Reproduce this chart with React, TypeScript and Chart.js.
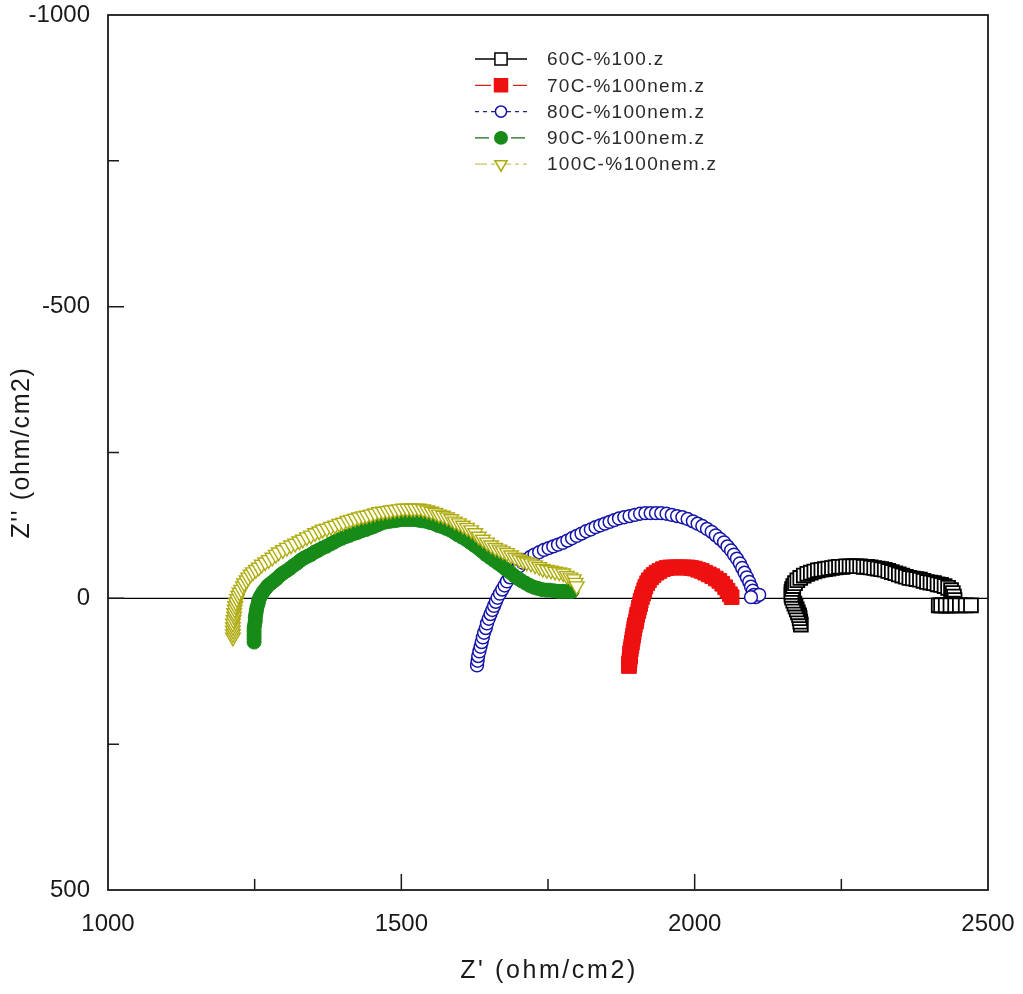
import React, { useEffect, useRef } from 'react';
import { Chart, registerables } from 'chart.js';

Chart.register(...registerables);

const FONT = "'Liberation Sans', Arial, Helvetica, sans-serif";

// ---- axis ranges / tick labels ----
const xRange = [1000, 2500];
const yRange = [-1000, 500];
const xTickValues = [1000, 1500, 2000, 2500];
const xTickLabels = ['1000', '1500', '2000', '2500'];
const yTickValues = [-1000, -500, 0, 500];
const yTickLabels = ['-1000', '-500', '0', '500'];
const xTitle = "Z' (ohm/cm2)";
const yTitle = "Z'' (ohm/cm2)";

// ---- series names ----
const seriesNames = ['60C-%100.z', '70C-%100nem.z', '80C-%100nem.z', '90C-%100nem.z', '100C-%100nem.z'];

// ---- 60C (Z', Z'') ----
const re60 = [2181, 2180, 2179, 2178, 2176, 2174, 2172, 2170, 2168, 2166, 2165, 2165, 2166, 2168, 2171, 2175, 2180, 2186, 2192, 2198, 2204, 2210, 2216, 2222, 2228, 2234, 2240, 2246, 2252, 2258, 2264, 2270, 2276, 2282, 2288, 2294, 2300, 2306, 2312, 2318, 2324, 2330, 2336, 2342, 2348, 2354, 2360, 2366, 2372, 2378, 2384, 2390, 2396, 2402, 2408, 2414, 2420, 2426, 2432, 2437, 2440, 2442, 2443, 2440, 2434, 2428, 2422, 2416, 2420, 2428, 2436, 2444, 2452, 2462, 2471];
const im60 = [45, 40, 34, 29, 24, 19, 14, 9, 4, -1, -6, -11, -16, -21, -26, -31, -35, -39, -42, -44, -46, -48, -49, -50, -51, -52, -53, -54, -54, -55, -55, -55, -55, -55, -54, -54, -53, -52, -51, -50, -49, -47, -45, -43, -41, -39, -37, -35, -34, -33, -32, -30, -28, -27, -26, -24, -23, -21, -18, -14, -9, -3, 3, 9, 12, 12, 12, 12, 12, 12, 12, 12, 12, 12, 12];

// ---- 70C ----
const re70 = [1888, 1888, 1889, 1890, 1890, 1891, 1892, 1893, 1894, 1895, 1896, 1897, 1898, 1900, 1901, 1902, 1904, 1905, 1907, 1908, 1910, 1912, 1914, 1916, 1919, 1922, 1926, 1930, 1935, 1940, 1946, 1952, 1958, 1964, 1970, 1976, 1982, 1988, 1994, 2000, 2006, 2012, 2018, 2024, 2030, 2036, 2042, 2047, 2052, 2056, 2060, 2063];
const im70 = [116, 112, 106, 100, 94, 88, 82, 76, 70, 64, 58, 52, 46, 40, 34, 28, 22, 16, 10, 4, -2, -8, -14, -20, -26, -31, -36, -40, -44, -47, -50, -52, -53, -53, -53, -53, -53, -53, -52, -51, -49, -47, -44, -41, -38, -34, -30, -25, -19, -13, -7, -2];

// ---- 80C ----
const re80 = [1629, 1630, 1631, 1633, 1635, 1637, 1639, 1641, 1644, 1646, 1649, 1652, 1655, 1658, 1661, 1664, 1668, 1672, 1676, 1680, 1685, 1690, 1695, 1701, 1707, 1713, 1720, 1727, 1735, 1743, 1751, 1759, 1767, 1775, 1783, 1791, 1799, 1807, 1815, 1823, 1831, 1839, 1847, 1855, 1863, 1871, 1880, 1889, 1898, 1907, 1916, 1925, 1934, 1943, 1952, 1961, 1970, 1979, 1988, 1997, 2005, 2013, 2021, 2029, 2036, 2043, 2050, 2056, 2062, 2067, 2072, 2077, 2081, 2085, 2089, 2093, 2096, 2099, 2101, 2104, 2110, 2096];
const im80 = [115, 107, 99, 91, 83, 75, 67, 59, 51, 43, 35, 27, 20, 13, 6, -1, -8, -15, -22, -29, -36, -43, -49, -55, -61, -66, -71, -75, -79, -83, -86, -89, -92, -95, -99, -103, -107, -111, -115, -118, -122, -125, -128, -131, -134, -137, -139, -141, -143, -145, -146, -146, -146, -146, -145, -143, -141, -139, -136, -132, -128, -124, -119, -114, -108, -102, -96, -89, -82, -75, -68, -60, -52, -44, -36, -28, -20, -13, -6, -2, -6, -2];

// ---- 90C ----
const re90 = [1249, 1249, 1249, 1249, 1249, 1250, 1251, 1251, 1252, 1253, 1254, 1256, 1257, 1259, 1262, 1265, 1269, 1273, 1278, 1283, 1288, 1293, 1298, 1304, 1310, 1316, 1322, 1328, 1334, 1340, 1346, 1352, 1358, 1365, 1372, 1379, 1385, 1392, 1399, 1406, 1412, 1419, 1426, 1433, 1440, 1447, 1453, 1460, 1467, 1474, 1481, 1488, 1494, 1501, 1508, 1515, 1522, 1529, 1535, 1542, 1549, 1556, 1562, 1569, 1576, 1583, 1590, 1596, 1603, 1610, 1617, 1624, 1631, 1637, 1644, 1651, 1658, 1665, 1672, 1678, 1685, 1692, 1699, 1705, 1712, 1719, 1726, 1733, 1740, 1747, 1753, 1760, 1767, 1774, 1781, 1787, 1791];
const im90 = [75, 69, 63, 57, 51, 45, 39, 33, 27, 21, 15, 9, 3, -2, -7, -12, -17, -22, -26, -30, -34, -39, -43, -47, -51, -56, -60, -65, -69, -72, -75, -79, -82, -86, -89, -93, -96, -100, -103, -106, -108, -111, -113, -116, -118, -121, -123, -126, -129, -131, -132, -133, -134, -135, -135, -135, -135, -134, -133, -132, -130, -128, -125, -123, -120, -117, -113, -109, -105, -101, -96, -91, -86, -81, -75, -70, -65, -60, -55, -50, -45, -39, -34, -30, -26, -22, -19, -17, -15, -14, -14, -13, -12, -12, -12, -12, -12];

// ---- 100C ----
const re100 = [1213, 1213, 1213, 1213, 1213, 1214, 1215, 1215, 1216, 1217, 1218, 1220, 1222, 1224, 1227, 1230, 1232, 1236, 1239, 1243, 1247, 1252, 1257, 1262, 1268, 1274, 1280, 1286, 1291, 1298, 1305, 1312, 1319, 1326, 1332, 1339, 1346, 1353, 1360, 1366, 1373, 1380, 1387, 1394, 1401, 1408, 1414, 1421, 1428, 1435, 1441, 1448, 1455, 1462, 1469, 1476, 1482, 1489, 1496, 1503, 1510, 1517, 1523, 1530, 1537, 1544, 1551, 1558, 1564, 1571, 1578, 1585, 1591, 1598, 1605, 1612, 1619, 1626, 1632, 1639, 1646, 1653, 1660, 1667, 1673, 1680, 1687, 1694, 1701, 1708, 1714, 1721, 1728, 1735, 1741, 1748, 1755, 1762, 1769, 1776, 1782, 1788, 1794, 1797, 1799];
const im100 = [67, 61, 55, 49, 43, 37, 31, 25, 19, 13, 7, 1, -5, -10, -15, -21, -26, -31, -36, -41, -45, -49, -53, -58, -62, -66, -70, -75, -79, -83, -87, -91, -94, -98, -101, -105, -108, -112, -115, -118, -120, -123, -125, -128, -130, -133, -135, -137, -139, -141, -142, -144, -146, -148, -149, -150, -151, -152, -153, -154, -154, -154, -154, -154, -153, -151, -149, -147, -144, -142, -139, -136, -132, -129, -125, -121, -117, -112, -106, -101, -96, -91, -87, -84, -81, -78, -74, -70, -67, -64, -62, -60, -57, -54, -51, -49, -48, -46, -45, -43, -39, -36, -33, -27, -21];

const seriesRe = [re60, re70, re80, re90, re100];
const seriesIm = [im60, im70, im80, im90, im100];

// ---- styles ----
const strokeColors = ['#000000', '#ee1111', '#1414a8', '#178a17', '#aeab12'];
const fillColors = ['#ffffff', '#ee1111', '#ffffff', '#178a17', '#fffff0'];
const legendLineColors = ['#000000', '#cc2222', '#22228a', '#1a6a1a', '#c8c66a'];
const pointStyles = ['rect', 'rect', 'circle', 'circle', 'triangle'];
const pointRadii = [9.8, 10.4, 6.4, 7, 8.4];
const legendRadii = [8.6, 9.2, 5.6, 6.2, 7];
const pointRotations = [0, 0, 0, 0, 180];
const pointBorderWidths = [1.8, 1, 1.5, 1, 1.4];
const lineDashes: number[][] = [[], [16, 8, 6, 8], [4, 4], [14, 8, 6, 8], [12, 4, 4, 4]];

function drawMarker(ctx: CanvasRenderingContext2D, style: string, x: number, y: number, r: number, fill: string, stroke: string, lw: number) {
  ctx.beginPath();
  if (style === 'rect') {
    const s = r * Math.SQRT1_2;
    ctx.rect(x - s, y - s, 2 * s, 2 * s);
  } else if (style === 'circle') {
    ctx.arc(x, y, r, 0, Math.PI * 2);
  } else {
    ctx.moveTo(x - r * 0.866, y - r * 0.5);
    ctx.lineTo(x + r * 0.866, y - r * 0.5);
    ctx.lineTo(x, y + r);
    ctx.closePath();
  }
  ctx.setLineDash([]);
  ctx.fillStyle = fill;
  ctx.fill();
  ctx.lineWidth = lw;
  ctx.strokeStyle = stroke;
  ctx.stroke();
}

const framePlugin = {
  id: 'frame',
  beforeDatasetsDraw(chart: any) {
    const { ctx, chartArea: a, scales } = chart;
    const y0 = scales.y.getPixelForValue(0);
    ctx.save();
    ctx.strokeStyle = '#000';
    ctx.lineWidth = 1.3;
    ctx.beginPath();
    ctx.moveTo(a.left, y0);
    ctx.lineTo(a.right, y0);
    ctx.stroke();
    ctx.restore();
  },
  afterDraw(chart: any) {
    const { ctx, chartArea: a, scales } = chart;
    ctx.save();
    // frame
    ctx.strokeStyle = '#1a1a1a';
    ctx.lineWidth = 1.8;
    ctx.strokeRect(a.left, a.top, a.right - a.left, a.bottom - a.top);
    // inside ticks
    ctx.lineWidth = 1.5;
    ctx.beginPath();
    for (let v = xRange[0] + 250; v < xRange[1]; v += 250) {
      const px = scales.x.getPixelForValue(v);
      const len = v % 500 === 0 ? 16 : 11;
      ctx.moveTo(px, a.bottom);
      ctx.lineTo(px, a.bottom - len);
    }
    for (let v = yRange[0] + 250; v < yRange[1]; v += 250) {
      const py = scales.y.getPixelForValue(v);
      const len = v % 500 === 0 ? 16 : 11;
      ctx.moveTo(a.left, py);
      ctx.lineTo(a.left + len, py);
    }
    ctx.stroke();

    // axis titles
    ctx.fillStyle = '#1a1a1a';
    ctx.textAlign = 'center';
    ctx.textBaseline = 'middle';
    ctx.font = `25px ${FONT}`;
    (ctx as any).letterSpacing = '2.6px';
    ctx.fillText(xTitle, (a.left + a.right) / 2 + 1, 971);
    ctx.save();
    ctx.translate(22, (a.top + a.bottom) / 2);
    ctx.rotate(-Math.PI / 2);
    (ctx as any).letterSpacing = '1.6px';
    ctx.fillText(yTitle, 0, 0);
    ctx.restore();

    // legend
    const lx0 = 475, lx1 = 527, mx = 501, tx = 547, top = 59, gap = 26.3;
    seriesNames.forEach((name, i) => {
      const y = top + i * gap;
      ctx.beginPath();
      ctx.setLineDash(lineDashes[i]);
      ctx.strokeStyle = legendLineColors[i];
      ctx.lineWidth = 1.3;
      ctx.moveTo(lx0, y);
      ctx.lineTo(lx1, y);
      ctx.stroke();
      drawMarker(ctx, pointStyles[i], mx, y, legendRadii[i], fillColors[i], strokeColors[i], 1.5);
      ctx.fillStyle = '#2a2a2a';
      ctx.font = `19px ${FONT}`;
      (ctx as any).letterSpacing = '1.3px';
      ctx.textAlign = 'left';
      ctx.textBaseline = 'middle';
      ctx.fillText(name, tx, y + 1);
    });
    ctx.restore();
  },
};

function zeroPad(s: any) {
  s.paddingTop = 0;
  s.paddingBottom = 0;
  s.paddingLeft = 0;
  s.paddingRight = 0;
}

export default function App() {
  const ref = useRef<HTMLCanvasElement>(null);
  useEffect(() => {
    if (!ref.current) return;
    const datasets = seriesNames.map((name, i) => ({
      label: name,
      data: seriesRe[i].map((x, k) => ({ x, y: seriesIm[i][k] })),
      showLine: true,
      borderColor: strokeColors[i],
      borderWidth: 1,
      borderDash: lineDashes[i],
      backgroundColor: fillColors[i],
      pointStyle: pointStyles[i] as any,
      pointRadius: pointRadii[i],
      pointRotation: pointRotations[i],
      pointBackgroundColor: fillColors[i],
      pointBorderColor: strokeColors[i],
      pointBorderWidth: pointBorderWidths[i],
      tension: 0,
      order: seriesNames.length - 1 - i,
    }));
    const chart = new Chart(ref.current, {
      type: 'scatter',
      data: { datasets },
      options: {
        responsive: false,
        animation: false,
        devicePixelRatio: 1,
        layout: { padding: { left: 0, right: 35, top: 15, bottom: 0 } },
        plugins: { legend: { display: false }, tooltip: { enabled: false } },
        scales: {
          x: {
            type: 'linear',
            position: 'bottom',
            min: xRange[0],
            max: xRange[1],
            grid: { display: false, drawTicks: false },
            border: { display: false },
            ticks: {
              stepSize: 500,
              autoSkip: false,
              maxRotation: 0,
              padding: 20,
              color: '#1a1a1a',
              font: { family: FONT, size: 24 },
              callback: (v: any) => {
                const idx = xTickValues.indexOf(Number(v));
                return idx >= 0 ? xTickLabels[idx] : '';
              },
            },
            title: { display: false },
            afterFit: (s: any) => { s.height = 104; zeroPad(s); },
          },
          y: {
            type: 'linear',
            position: 'left',
            min: yRange[0],
            max: yRange[1],
            reverse: true,
            grid: { display: false, drawTicks: false },
            border: { display: false },
            ticks: {
              stepSize: 500,
              autoSkip: false,
              padding: 18,
              color: '#1a1a1a',
              font: { family: FONT, size: 24 },
              callback: (v: any) => {
                const idx = yTickValues.indexOf(Number(v));
                return idx >= 0 ? yTickLabels[idx] : '';
              },
            },
            title: { display: false },
            afterFit: (s: any) => { s.width = 108; zeroPad(s); },
          },
        },
      },
      plugins: [framePlugin],
    });
    return () => chart.destroy();
  }, []);
  return (
    <div style={{ position: 'absolute', left: 0, top: 0, width: 1023, height: 994, background: '#fff' }}>
      <canvas ref={ref} width={1023} height={994} style={{ display: 'block' }} />
    </div>
  );
}
